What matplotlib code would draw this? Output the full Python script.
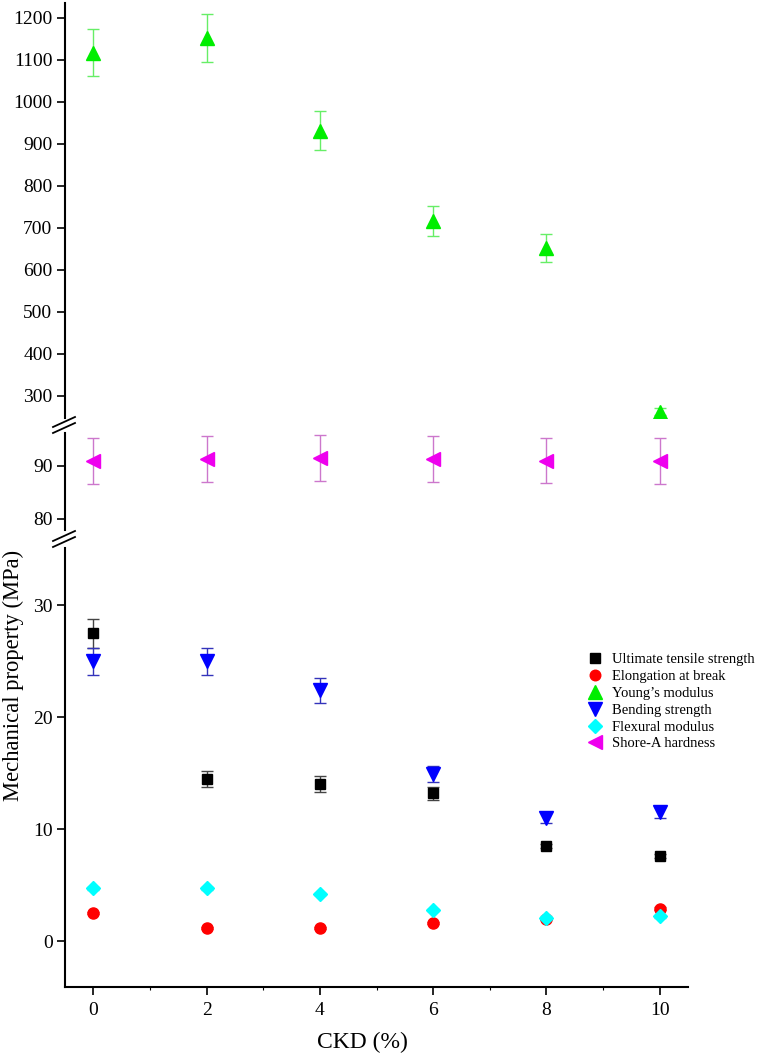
import matplotlib
matplotlib.use("Agg")
import matplotlib.pyplot as plt
from matplotlib.lines import Line2D
import numpy as np

plt.rcParams['font.family'] = ['Liberation Serif', 'DejaVu Serif']

ckd = [0, 2, 4, 6, 8, 10]

uts = [27.5, 14.5, 14.0, 13.2, 8.5, 7.6]
uts_err = [1.3, 0.7, 0.7, 0.6, 0.2, 0.2]
elong = [2.5, 1.2, 1.2, 1.6, 2.0, 2.9]
elong_err = [0.1, 0.1, 0.1, 0.1, 0.1, 0.1]
young = [1117, 1152, 932, 716, 653, 263]
young_err = [56, 57, 47, 36, 33, 8]
bend = [25.0, 25.0, 22.4, 14.9, 11.0, 11.5]
bend_err = [1.2, 1.2, 1.1, 0.7, 0.5, 0.5]
flex = [4.7, 4.7, 4.2, 2.8, 2.1, 2.2]
flex_err = [0.1, 0.1, 0.1, 0.1, 0.1, 0.1]
shore = [90.9, 91.3, 91.5, 91.3, 91.0, 90.9]
shore_err = [4.3, 4.3, 4.3, 4.3, 4.3, 4.3]

labels = ["Ultimate tensile strength", "Elongation at break", "Young\u2019s modulus",
          "Bending strength", "Flexural modulus", "Shore-A hardness"]

W, H = 759, 1061
fig = plt.figure(figsize=(W / 100, H / 100), dpi=100)

left = 65 / W
width = (688 - 65) / W

def ax_at(top_px, bot_px):
    return fig.add_axes([left, 1 - bot_px / H, width, (bot_px - top_px) / H])

ax_top = ax_at(3, 418)
ax_mid = ax_at(433, 530)
ax_bot = ax_at(548, 987)

for ax in (ax_top, ax_mid, ax_bot):
    ax.set_xlim(-0.5, 10.5)
    for s in ('top', 'right'):
        ax.spines[s].set_visible(False)
    ax.spines['left'].set_linewidth(1.5)
    ax.tick_params(axis='y', direction='out', length=6, width=1.2, labelsize=14, pad=3)

for ax in (ax_top, ax_mid):
    ax.spines['bottom'].set_visible(False)
    ax.set_xticks([])

ax_top.set_ylim(247.6, 1235.7)
ax_top.set_yticks(np.arange(300, 1201, 100))
ax_mid.set_ylim(77.9, 96.2)
ax_mid.set_yticks([80, 90])
ax_bot.set_ylim(-4.1, 35.1)
ax_bot.set_yticks([0, 10, 20, 30])
ax_bot.spines['bottom'].set_linewidth(1.5)
ax_bot.set_xticks(ckd)
ax_bot.set_xticks([1, 3, 5, 7, 9], minor=True)
ax_bot.tick_params(axis='x', direction='out', length=6, width=1.2, labelsize=14, pad=5)
ax_bot.tick_params(axis='x', which='minor', length=2, width=0.8)

cap = 4
styles = [
    ('s', 'black', '#444444', 7),
    ('o', 'red', '#cc4444', 8),
    ('^', '#00ee00', '#66ee66', 10),
    ('v', 'blue', '#3333bb', 10),
    ('D', 'cyan', '#55dddd', 7),
    ('<', '#ee00ee', '#cc77cc', 10),
]
series = [
    (ax_bot, uts, uts_err),
    (ax_bot, elong, elong_err),
    (ax_top, young, young_err),
    (ax_bot, bend, bend_err),
    (ax_bot, flex, flex_err),
    (ax_mid, shore, shore_err),
]
for (ax, vals, errs), (m, c, ec, ms), lab in zip(series, styles, labels):
    ax.errorbar(ckd, vals, yerr=errs, fmt=m, color=c, ecolor=ec, elinewidth=1,
                capsize=cap, markersize=ms, label=lab)

# break marks on the left spine
def slashes(y_px):
    for dy in (-3, 3):
        yc = 1 - (y_px + dy) / H
        fig.add_artist(Line2D([left - 12 / W, left + 10 / W], [yc - 5 / H, yc + 5 / H],
                              color='black', lw=1.3, transform=fig.transFigure))

slashes(425)
slashes(539)

fig.text(13 / W, 1 - 675 / H, "Mechanical property (MPa)", rotation=90,
         ha='center', va='center', fontsize=16.3)
fig.text(362 / W, 1 - 1042 / H, "CKD (%)", ha='center', va='center', fontsize=17)

handles = [Line2D([], [], linestyle='none', marker=m, color=c, markersize=ms * 0.95)
           for (m, c, ec, ms) in styles]
fig.legend(handles, labels, loc='upper left', bbox_to_anchor=(586 / W, 1 - 653 / H),
           frameon=False, fontsize=10.5, handlelength=1.2, handletextpad=0.6,
           labelspacing=0.25, borderaxespad=0, borderpad=0)

fig.savefig("out.png", dpi=100)
